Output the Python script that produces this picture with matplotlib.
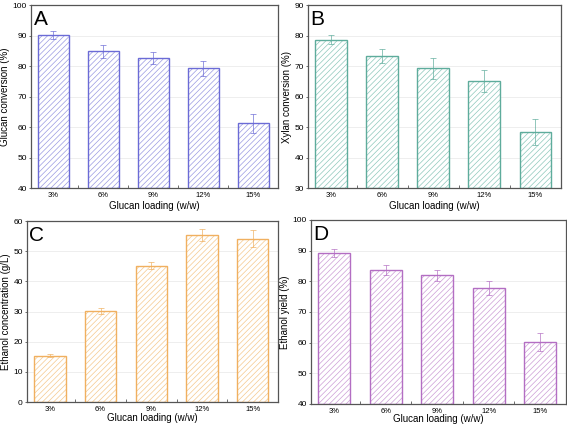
import matplotlib
matplotlib.use("Agg")
import matplotlib.pyplot as plt
import numpy as np

plt.rcParams['font.family'] = ['Liberation Sans', 'DejaVu Sans']
plt.rcParams['hatch.linewidth'] = 0.5

loadings = ["3%", "6%", "9%", "12%", "15%"]

glucan_conv = [90.2, 84.8, 82.7, 79.2, 61.2]
glucan_err = [1.2, 2.2, 2.0, 2.5, 3.2]
xylan_conv = [78.6, 73.2, 69.2, 65.2, 48.3]
xylan_err = [1.5, 2.3, 3.3, 3.6, 4.3]
ethanol_conc = [15.4, 30.3, 45.2, 55.5, 54.2]
ethanol_conc_err = [0.6, 1.0, 1.1, 2.0, 2.7]
ethanol_yield = [89.2, 83.6, 81.9, 77.9, 60.3]
ethanol_yield_err = [1.2, 1.7, 1.9, 2.3, 3.0]

fig = plt.figure(figsize=(5.67, 4.28), dpi=100)

panels = [
    # (rect, letter, values, errors, edge colour, hatch colour, ylabel, ylim, xlabel pad)
    ([0.0547, 0.5607, 0.4356, 0.4276], "A", glucan_conv, glucan_err, "#6b6bd6", "#9a9ae2", "Glucan conversion (%)", (40, 100), 1),
    ([0.5432, 0.5607, 0.4462, 0.4276], "B", xylan_conv, xylan_err, "#5eac9c", "#8ec8bc", "Xylan conversion (%)", (30, 90), 1),
    ([0.0476, 0.0607, 0.4427, 0.4229], "C", ethanol_conc, ethanol_conc_err, "#f0b060", "#f5c98e", "Ethanol concentration (g/L)", (0, 60), 0),
    ([0.5485, 0.0561, 0.4497, 0.4299], "D", ethanol_yield, ethanol_yield_err, "#b36ec3", "#cc9ed6", "Ethanol yield (%)", (40, 100), -1),
]

x = np.arange(len(loadings))
for rect, letter, vals, errs, col, hcol, ylab, ylim, xpad in panels:
    ax = fig.add_axes(rect)
    ax.set_axisbelow(True)
    ax.grid(axis="y", color="#ebebeb", linewidth=0.6)
    heights = [v - ylim[0] for v in vals]
    ax.bar(x, heights, bottom=ylim[0], width=0.62, facecolor="white",
           edgecolor=hcol, hatch="//////", linewidth=0)
    ax.bar(x, heights, bottom=ylim[0], width=0.62, fill=False,
           edgecolor=col, linewidth=1.0)
    ax.errorbar(x, vals, yerr=errs, fmt="none", ecolor=col, elinewidth=0.6,
                capsize=2, capthick=0.6, alpha=0.8)
    ax.set_xlim(-0.45, 4.5)
    ax.set_ylim(*ylim)
    ax.set_yticks(np.arange(ylim[0], ylim[1] + 1, 10))
    # tick marks between categories, labels centred under bars
    ax.set_xticks(np.arange(0.5, 4.0, 1.0))
    ax.set_xticklabels([])
    ax.set_xticks(x, minor=True)
    ax.set_xticklabels(loadings, minor=True)
    ax.tick_params(axis="x", which="minor", length=0, pad=3, labelsize=5.5)
    ax.tick_params(axis="x", which="major", direction="in", length=2, width=0.6, color="#555555")
    ax.tick_params(axis="y", direction="out", length=1.5, width=0.6, pad=1.5,
                   labelsize=6, color="#555555")
    ax.set_xlabel("Glucan loading (w/w)", fontsize=7, labelpad=xpad)
    ax.set_ylabel(ylab, fontsize=7, labelpad=2)
    for s in ax.spines.values():
        s.set_color("#555555")
        s.set_linewidth(0.9)
    ax.text(0.01, 0.975, letter, transform=ax.transAxes, fontsize=15,
            ha="left", va="top")

fig.savefig("out.png", dpi=100)
